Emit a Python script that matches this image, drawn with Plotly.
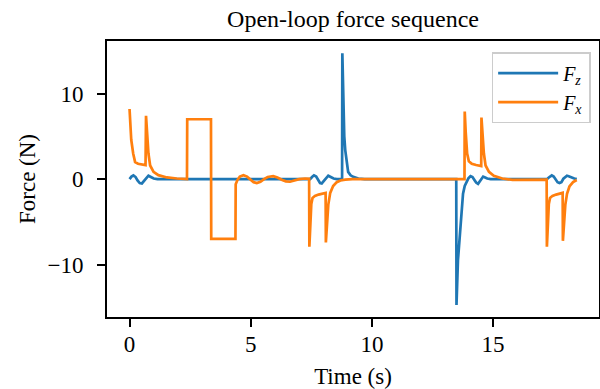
import plotly.graph_objects as go

# Fz (blue) samples
t_fz = [0.0, 0.08, 0.16, 0.25, 0.33, 0.42, 0.51, 0.6, 0.68, 0.78, 0.88, 1.0, 1.15,
        7.45, 7.53, 7.61, 7.7, 7.78, 7.86, 7.93, 8.02, 8.1, 8.2, 8.3, 8.42, 8.55,
        8.77, 8.78, 8.82, 8.86, 8.9, 8.96, 9.02, 9.12, 9.23, 9.44, 9.7,
        13.48, 13.49, 13.55, 13.63, 13.7, 13.76, 13.83, 13.9, 13.98, 14.07, 14.15,
        14.23, 14.3, 14.38, 14.45, 14.52, 14.59, 14.67, 14.76, 14.9,
        17.22, 17.3, 17.36, 17.42, 17.5, 17.58, 17.66, 17.74, 17.82, 17.9, 17.98,
        18.05, 18.12, 18.22, 18.35, 18.45]
fz = [0.0, 0.3, 0.45, 0.25, -0.15, -0.45, -0.5, -0.2, 0.2, 0.4, 0.25, 0.08, 0.0,
      0.0, 0.25, 0.45, 0.3, -0.1, -0.45, -0.5, -0.2, 0.15, 0.4, 0.25, 0.08, 0.0,
      0.0, 14.7, 8.0, 5.0, 3.4, 1.7, 0.85, 0.45, 0.27, 0.08, 0.0,
      0.0, -14.7, -9.5, -6.3, -3.3, -1.7, -0.8, -0.3, 0.1, 0.35, 0.25,
      -0.1, -0.4, -0.55, -0.3, 0.05, 0.3, 0.2, 0.08, 0.0,
      0.0, 0.2, 0.35, 0.45, 0.3, -0.05, -0.35, -0.45, -0.35, 0.05, 0.3,
      0.4, 0.35, 0.2, 0.08, 0.0]

# Fx (orange) samples
t_fx = [0.0, 0.07, 0.15, 0.23, 0.35, 0.5, 0.66,
        0.68, 0.72, 0.78, 0.85, 0.99, 1.19, 1.54, 1.95, 2.37,
        2.38, 3.36, 3.37, 4.37,
        4.38, 4.45, 4.55, 4.7, 4.85, 5.0, 5.12, 5.25, 5.4, 5.55, 5.7, 5.93, 6.1,
        6.3, 6.45, 6.62, 6.8, 7.0, 7.24, 7.41,
        7.42, 7.46, 7.5, 7.55, 7.65, 7.8, 7.95, 8.09,
        8.1, 8.14, 8.2, 8.28, 8.4, 8.55, 8.7, 8.9, 9.2, 13.82,
        13.83, 13.87, 13.93, 14.0, 14.12, 14.3, 14.51,
        14.52, 14.56, 14.62, 14.69, 14.83, 15.03, 15.38, 15.8, 16.5, 17.21,
        17.22, 17.26, 17.3, 17.35, 17.45, 17.6, 17.75, 17.87,
        17.88, 17.92, 17.98, 18.05, 18.15, 18.3, 18.45]
fx = [8.2, 4.6, 3.0, 2.0, 1.8, 1.7, 1.64,
      7.4, 5.3, 3.0, 1.6, 0.85, 0.47, 0.2, 0.08, 0.0,
      7.0, 7.0, -6.98, -6.98,
      -0.6, -0.1, 0.3, 0.47, 0.3, -0.05, -0.35, -0.45, -0.3, 0.0, 0.25, 0.35, 0.2,
      -0.1, -0.25, -0.3, -0.15, 0.0, 0.08, 0.05,
      -7.9, -4.5, -2.9, -2.2, -1.95, -1.8, -1.7, -1.6,
      -7.4, -5.2, -3.0, -1.6, -0.8, -0.35, -0.15, -0.05, 0.0, 0.0,
      7.9, 5.5, 3.0, 2.1, 1.8, 1.65, 1.52,
      7.2, 5.1, 3.0, 1.6, 0.85, 0.4, 0.08, -0.08, -0.1, -0.05,
      -7.9, -4.5, -2.9, -2.2, -1.95, -1.8, -1.7, -1.6,
      -7.2, -5.1, -3.0, -1.7, -0.85, -0.35, -0.1]

x_ticks = [0, 5, 10, 15]
y_ticks = [-10, 0, 10]

FONT = "Liberation Serif"
FS = 23

fig = go.Figure()
fig.add_trace(go.Scatter(x=t_fz, y=fz, mode="lines", name="<i>F<sub>z</sub></i>",
                         line=dict(color="#1f77b4", width=2.7)))
fig.add_trace(go.Scatter(x=t_fx, y=fx, mode="lines", name="<i>F<sub>x</sub></i>",
                         line=dict(color="#ff7f0e", width=2.7)))

axis_common = dict(showline=True, mirror=True, linecolor="black", linewidth=1.8,
                   ticks="outside", ticklen=8, tickwidth=1.8, tickcolor="black",
                   showgrid=False, zeroline=False, automargin=False,
                   tickfont=dict(family=FONT, size=FS, color="black"))

fig.update_layout(
    width=600, height=389,
    margin=dict(l=107, r=1, t=41, b=72),
    paper_bgcolor="white", plot_bgcolor="white",
    font=dict(family=FONT, size=FS, color="black"),
    title=dict(text="Open-loop force sequence", x=0.5, xref="paper",
               y=1 - 19 / 389, yref="container", yanchor="middle",
               font=dict(family=FONT, size=24, color="black")),
    xaxis=dict(range=[-0.93, 19.37], tickvals=x_ticks, ticklabelstandoff=-3,
               title=dict(text="Time (s)", standoff=12,
                          font=dict(family=FONT, size=FS)),
               **axis_common),
    yaxis=dict(range=[-16.1, 16.14], tickvals=y_ticks, ticklabelstandoff=9,
               title=dict(text="Force (N)", standoff=5,
                          font=dict(family=FONT, size=FS)),
               **axis_common),
    legend=dict(x=0.983, y=0.96, xanchor="right", yanchor="top",
                bgcolor="rgba(255,255,255,0.8)", bordercolor="#cccccc",
                borderwidth=1.5, font=dict(family=FONT, size=20),
                itemwidth=60),
    showlegend=True,
)

fig.write_html("out.html", config={"displayModeBar": False},
               post_script="document.body.style.margin='0';document.body.style.padding='0';")
